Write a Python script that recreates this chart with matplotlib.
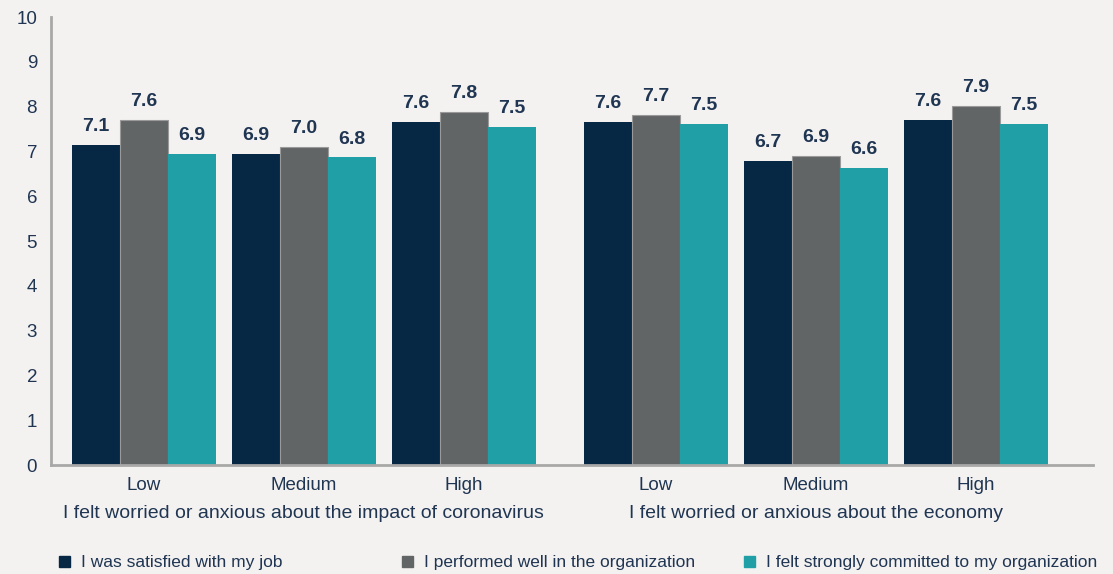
import matplotlib
matplotlib.use('Agg')
import matplotlib.pyplot as plt
from matplotlib.patches import Patch
from matplotlib.transforms import blended_transform_factory
import numpy as np

plt.rcParams['font.family'] = ['Liberation Sans', 'DejaVu Sans']

levels = ['Low', 'Medium', 'High', 'Low', 'Medium', 'High']
groups = ['I felt worried or anxious about the impact of coronavirus',
          'I felt worried or anxious about the economy']
series = ['I was satisfied with my job',
          'I performed well in the organization',
          'I felt strongly committed to my organization']

satisfied = [7.14, 6.94, 7.66, 7.66, 6.79, 7.70]
performed = [7.70, 7.10, 7.88, 7.81, 6.90, 8.01]
committed = [6.94, 6.87, 7.54, 7.61, 6.63, 7.61]
satisfied_lbl = ['7.1', '6.9', '7.6', '7.6', '6.7', '7.6']
performed_lbl = ['7.6', '7.0', '7.8', '7.7', '6.9', '7.9']
committed_lbl = ['6.9', '6.8', '7.5', '7.5', '6.6', '7.5']

colors = ['#072845', '#626566', '#209FA6']
bg = '#F4F2F1'
txt = '#1f3552'
axis_col = '#A8A8A8'

x = np.array([0, 1, 2, 3.2, 4.2, 5.2])
width = 0.3

fig = plt.figure(figsize=(11.13, 5.74), dpi=100, facecolor=bg)
ax = fig.add_axes([51 / 1113, 1 - 465 / 574, (1093 - 51) / 1113, (465 - 17) / 574])
ax.set_facecolor(bg)

values = [satisfied, performed, committed]
labels = [satisfied_lbl, performed_lbl, committed_lbl]
for i, (vals, lbls) in enumerate(zip(values, labels)):
    ec = '#9a9a9a' if i == 1 else colors[i]
    bars = ax.bar(x + (i - 1) * width, vals, width, color=colors[i],
                  edgecolor=ec, linewidth=0.8 if i == 1 else 0)
    for b, l in zip(bars, lbls):
        ax.annotate(l, (b.get_x() + b.get_width() / 2, b.get_height()),
                    xytext=(0, 7), textcoords='offset points',
                    ha='center', va='bottom', fontsize=14, fontweight='bold',
                    color=txt)

ax.set_ylim(0, 10)
ax.set_xlim(-0.58, 5.93)
ax.set_yticks(range(0, 11))
ax.tick_params(axis='y', length=0, labelsize=13.5, labelcolor=txt, pad=10)
ax.set_xticks(x)
ax.set_xticklabels(levels)
ax.tick_params(axis='x', length=0, labelsize=13.5, labelcolor=txt, pad=9)

for s in ['top', 'right']:
    ax.spines[s].set_visible(False)
for s in ['left', 'bottom']:
    ax.spines[s].set_color(axis_col)
    ax.spines[s].set_linewidth(2)

trans = blended_transform_factory(ax.transData, ax.transAxes)
ax.text(x[1], -0.108, groups[0], transform=trans, ha='center', va='center',
        fontsize=14, color=txt)
ax.text(x[4], -0.108, groups[1], transform=trans, ha='center', va='center',
        fontsize=14, color=txt)

# legend entries, one per series, spread along the bottom
leg_x = [59 / 1113, 402 / 1113, 744 / 1113]
for i, name in enumerate(series):
    h = Patch(facecolor=colors[i], edgecolor=colors[i])
    leg = fig.legend([h], [name], loc='center left',
                     bbox_to_anchor=(leg_x[i], 1 - 563 / 574), frameon=False,
                     fontsize=12.5, handlelength=0.65, handleheight=0.65,
                     handletextpad=0.6, borderaxespad=0, borderpad=0)
    for t in leg.get_texts():
        t.set_color(txt)

fig.savefig('out.png', dpi=100, facecolor=bg)
